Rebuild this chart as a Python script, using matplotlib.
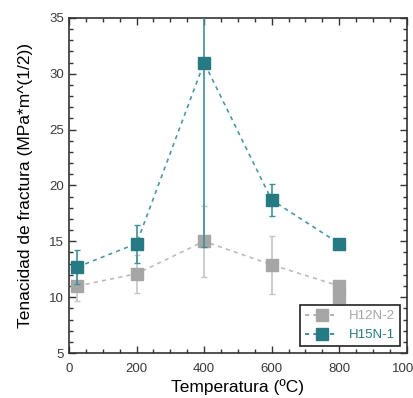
import numpy as np
import matplotlib.pyplot as plt
from matplotlib.ticker import MultipleLocator

plt.rcParams['font.family'] = ['Liberation Sans', 'DejaVu Sans']

# data
temp_h12 = [25, 200, 400, 600, 800, 800]
tough_h12 = [11.0, 12.1, 15.0, 12.9, 11.0, 10.0]
err_h12 = [1.3, 1.7, 3.2, 2.6, 0, 0]

temp_h15 = [25, 200, 400, 600, 800]
tough_h15 = [12.7, 14.8, 31.0, 18.7, 14.8]
err_h15 = [1.5, 1.7, 16.5, 1.45, 0]

c_gray = '#a6a6a6'
c_gray_line = '#bcbcbc'
c_teal = '#267a84'
c_teal_line = '#4b99a3'
c_teal_err = '#3f8f98'

fig = plt.figure(figsize=(4.13, 3.98), dpi=100)
ax = fig.add_axes([0.167, 0.113, 0.818, 0.842])

ax.errorbar(temp_h12, tough_h12, yerr=err_h12, fmt='none',
            ecolor='#c4c4c4', elinewidth=1.2, capsize=2.5, capthick=1, zorder=2)
ax.plot(temp_h12, tough_h12, '--', color=c_gray_line, linewidth=1.2,
        dashes=(2.5, 2.5), zorder=3)
ax.plot(temp_h12, tough_h12, 's', color=c_gray, markersize=9, zorder=3)

ax.errorbar(temp_h15, tough_h15, yerr=err_h15, fmt='none',
            ecolor=c_teal_err, elinewidth=1.2, capsize=2.5, capthick=1, zorder=4)
ax.plot(temp_h15, tough_h15, '--', color=c_teal_line, linewidth=1.2,
        dashes=(2.5, 2.5), zorder=5)
ax.plot(temp_h15, tough_h15, 's', color=c_teal, markersize=9, zorder=5)

# legend handles
ax.plot([], [], '--s', color=c_gray, markersize=9, linewidth=1.2,
        dashes=(2.5, 2.5), label='H12N-2')
ax.plot([], [], '--s', color=c_teal, markersize=9, linewidth=1.2,
        dashes=(2.5, 2.5), label='H15N-1')

ax.set_xlim(0, 1000)
ax.set_ylim(5, 35)
ax.xaxis.set_major_locator(MultipleLocator(200))
ax.xaxis.set_minor_locator(MultipleLocator(50))
ax.yaxis.set_major_locator(MultipleLocator(5))
ax.yaxis.set_minor_locator(MultipleLocator(1))
ax.tick_params(which='both', direction='in', top=True, right=True,
               labelsize=9.5, labelcolor='#3a3a3a', color='#333333', width=1)
ax.tick_params(which='major', length=5)
ax.tick_params(which='minor', length=3)
ax.tick_params(axis='x', pad=7)
for s in ax.spines.values():
    s.set_linewidth(1.2)
    s.set_color('#333333')

ax.set_xlabel('Temperatura (ºC)', fontsize=12.5, labelpad=3)
ax.set_ylabel('Tenacidad de fractura (MPa*m^(1/2))', fontsize=12.5, labelpad=12)

leg = ax.legend(loc='lower right', fontsize=9.5, fancybox=False,
                edgecolor='#222222', framealpha=1, handlelength=2.5,
                borderaxespad=0.5)
leg.get_frame().set_linewidth(1.2)
for txt, col in zip(leg.get_texts(), [c_gray, c_teal]):
    txt.set_color(col)

fig.savefig('out.png', dpi=100)
